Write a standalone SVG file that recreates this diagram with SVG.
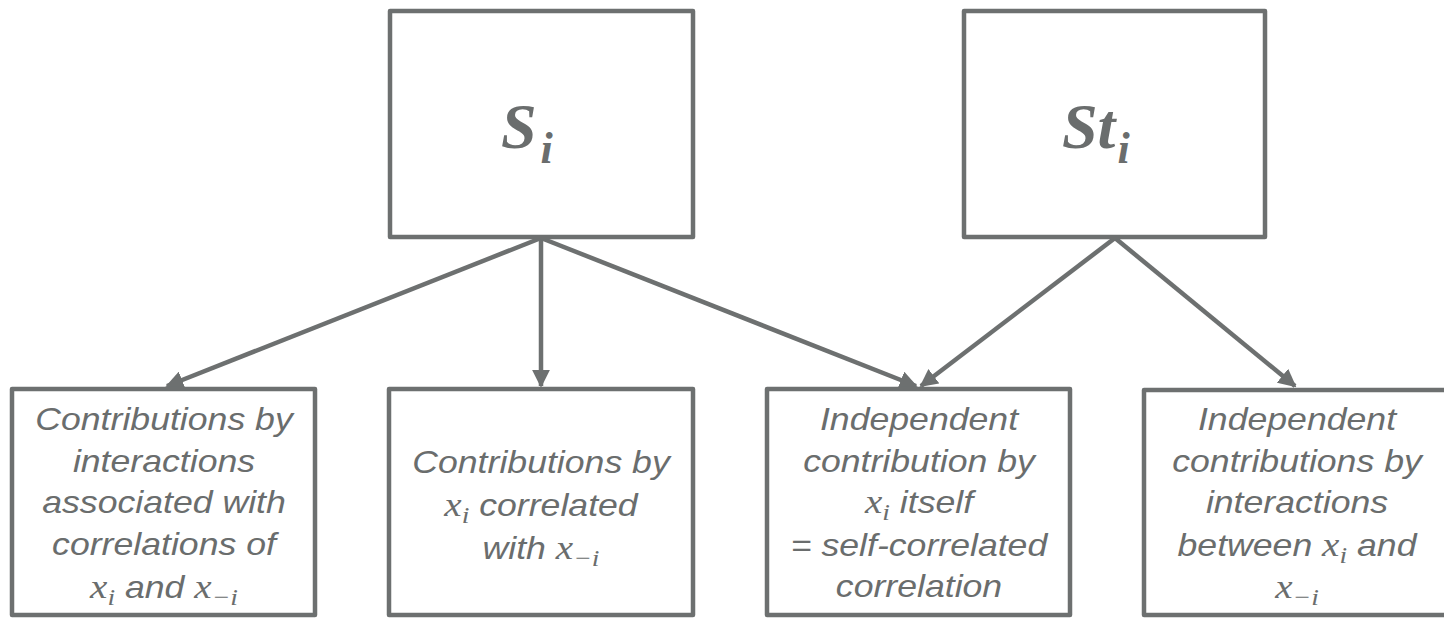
<svg xmlns="http://www.w3.org/2000/svg" width="1444" height="618" viewBox="0 0 1444 618">
  <style>
    .box { fill: #ffffff; stroke: #6d7070; stroke-width: 4.5; stroke-linejoin: round; }
    .edge { stroke: #6d7070; stroke-width: 4.5; fill: none; marker-end: url(#head); }
    .lbl { font-family: "Liberation Sans", Arial, sans-serif; font-style: italic; font-size: 31px; fill: #6a6d6d; text-anchor: middle; }
    .m { font-family: "Liberation Serif", "Times New Roman", serif; font-style: italic; font-size: 34px; }
    .ms { font-family: "Liberation Serif", "Times New Roman", serif; font-style: italic; font-size: 24px; }
    .big { font-family: "Liberation Serif", "Times New Roman", serif; font-style: italic; font-weight: bold; font-size: 64px; fill: #6a6d6d; }
    .bigsub { font-size: 44px; }
  </style>
  <defs>
    <marker id="head" viewBox="0 0 10 10" refX="9" refY="5" markerWidth="4" markerHeight="4" orient="auto" markerUnits="strokeWidth">
      <path d="M0,0 L10,5 L0,10 z" fill="#6d7070"/>
    </marker>
  </defs>

  <rect width="1444" height="618" fill="#ffffff"/>

  <!-- connectors -->
  <g id="connectors">
    <line class="edge" x1="541" y1="238" x2="167" y2="386"/>
    <line class="edge" x1="541" y1="238" x2="541" y2="386"/>
    <line class="edge" x1="541" y1="238" x2="916" y2="386"/>
    <line class="edge" x1="1115" y1="238" x2="921" y2="386"/>
    <line class="edge" x1="1115" y1="238" x2="1295" y2="386"/>
  </g>

  <!-- top: first-order index -->
  <g id="node-si">
    <rect class="box" x="390" y="11" width="303" height="226"/>
    <text class="big" x="501" y="148">S<tspan class="bigsub" dx="4" dy="15">i</tspan></text>
  </g>

  <!-- top: total index -->
  <g id="node-sti">
    <rect class="box" x="964" y="11" width="301" height="226"/>
    <text class="big" x="1062" y="148">St<tspan class="bigsub" dx="2" dy="15">i</tspan></text>
  </g>

  <!-- bottom row -->
  <g id="node-interactions-corr">
    <rect class="box" x="12" y="389" width="303" height="226"/>
    <g transform="translate(164 0) scale(1.15 1)">
      <text class="lbl" x="0" y="430">Contributions by</text>
      <text class="lbl" x="0" y="472">interactions</text>
      <text class="lbl" x="0" y="513">associated with</text>
      <text class="lbl" x="0" y="555">correlations of</text>
      <text class="lbl" x="0" y="598"><tspan class="m">x</tspan><tspan class="ms" dy="7">i</tspan><tspan dy="-7">  and </tspan><tspan class="m">x</tspan><tspan class="ms" dy="7">−i</tspan></text>
    </g>
  </g>

  <g id="node-correlated">
    <rect class="box" x="389" y="389" width="304" height="226"/>
    <g transform="translate(541 0) scale(1.15 1)">
      <text class="lbl" x="0" y="473">Contributions by</text>
      <text class="lbl" x="0" y="516"><tspan class="m">x</tspan><tspan class="ms" dy="7">i</tspan><tspan dy="-7">  correlated</tspan></text>
      <text class="lbl" x="0" y="559">with <tspan class="m">x</tspan><tspan class="ms" dy="7">−i</tspan></text>
    </g>
  </g>

  <g id="node-independent">
    <rect class="box" x="767" y="389" width="303" height="226"/>
    <g transform="translate(919 0) scale(1.15 1)">
      <text class="lbl" x="0" y="430">Independent</text>
      <text class="lbl" x="0" y="472">contribution by</text>
      <text class="lbl" x="0" y="513"><tspan class="m">x</tspan><tspan class="ms" dy="7">i</tspan><tspan dy="-7">  itself</tspan></text>
      <text class="lbl" x="0" y="556">= self-correlated</text>
      <text class="lbl" x="0" y="597">correlation</text>
    </g>
  </g>

  <g id="node-independent-interactions">
    <rect class="box" x="1144" y="390" width="304" height="225"/>
    <g transform="translate(1297 0) scale(1.15 1)">
      <text class="lbl" x="0" y="430">Independent</text>
      <text class="lbl" x="0" y="472">contributions by</text>
      <text class="lbl" x="0" y="513">interactions</text>
      <text class="lbl" x="0" y="556">between <tspan class="m">x</tspan><tspan class="ms" dy="7">i</tspan><tspan dy="-7">  and</tspan></text>
      <text class="lbl" x="0" y="598"><tspan class="m">x</tspan><tspan class="ms" dy="7">−i</tspan></text>
    </g>
  </g>
</svg>
